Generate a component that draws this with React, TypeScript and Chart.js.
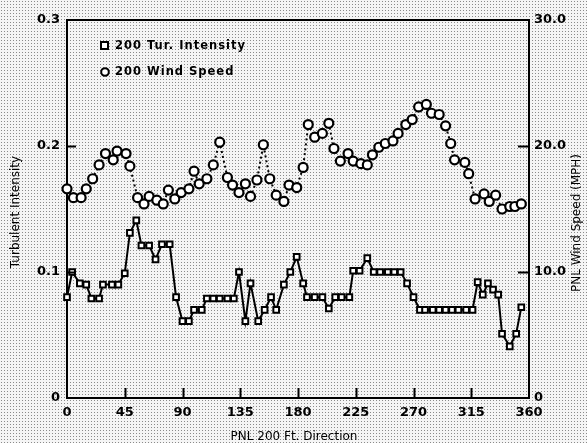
import React, { useEffect, useRef } from "react";
import { Chart, registerables } from "chart.js";

Chart.register(...registerables);

const xTicks = [0, 45, 90, 135, 180, 225, 270, 315, 360];

const turbDeg = [0, 4, 10, 15, 19, 25, 28, 35, 40, 45, 49, 54, 58, 64, 69, 74, 80, 85, 90, 95, 99, 105, 109, 114, 119, 125, 130, 134, 139, 143, 149, 154, 159, 163, 169, 174, 179, 184, 187, 193, 199, 204, 209, 214, 220, 223, 228, 234, 239, 244, 250, 255, 260, 265, 270, 275, 279, 285, 290, 295, 300, 305, 311, 316, 320, 324, 328, 332, 336, 339, 345, 350, 354];
const turbVals = [0.08, 0.1, 0.091, 0.09, 0.079, 0.079, 0.09, 0.09, 0.09, 0.099, 0.131, 0.141, 0.121, 0.121, 0.11, 0.122, 0.122, 0.08, 0.061, 0.061, 0.07, 0.07, 0.079, 0.079, 0.079, 0.079, 0.079, 0.1, 0.061, 0.091, 0.061, 0.07, 0.08, 0.07, 0.09, 0.1, 0.112, 0.091, 0.08, 0.08, 0.08, 0.071, 0.08, 0.08, 0.08, 0.101, 0.101, 0.111, 0.1, 0.1, 0.1, 0.1, 0.1, 0.091, 0.08, 0.07, 0.07, 0.07, 0.07, 0.07, 0.07, 0.07, 0.07, 0.07, 0.092, 0.082, 0.091, 0.086, 0.082, 0.051, 0.041, 0.051, 0.072];

const windDeg = [0, 5, 11, 15, 20, 25, 30, 36, 39, 46, 49, 55, 60, 64, 70, 75, 79, 84, 89, 95, 99, 103, 109, 114, 119, 125, 129, 134, 139, 143, 148, 153, 158, 163, 169, 173, 179, 184, 188, 193, 199, 204, 208, 213, 219, 223, 229, 234, 238, 243, 248, 254, 258, 264, 269, 274, 280, 284, 290, 295, 299, 302, 310, 313, 318, 325, 329, 334, 339, 345, 349, 354];
const windVals = [16.6, 15.9, 15.9, 16.6, 17.4, 18.5, 19.4, 18.9, 19.6, 19.4, 18.4, 15.9, 15.4, 16.0, 15.7, 15.4, 16.5, 15.8, 16.3, 16.6, 18.0, 17.0, 17.4, 18.5, 20.3, 17.5, 16.9, 16.3, 17.0, 16.0, 17.3, 20.1, 17.4, 16.1, 15.6, 16.9, 16.7, 18.3, 21.7, 20.7, 21.0, 21.8, 19.8, 18.8, 19.4, 18.8, 18.6, 18.5, 19.3, 19.9, 20.2, 20.4, 21.0, 21.7, 22.1, 23.1, 23.3, 22.6, 22.5, 21.6, 20.2, 18.9, 18.7, 17.8, 15.8, 16.2, 15.6, 16.1, 15.0, 15.2, 15.2, 15.4];

const seriesLabels = ["200 Tur. Intensity", "200 Wind Speed"];
const axisTitles = { x: "PNL 200 Ft. Direction", left: "Turbulent Intensity", right: "PNL Wind Speed (MPH)" };

const FONT = "'DejaVu Sans', Verdana, sans-serif";

const decorPlugin = {
  id: "decor",
  beforeDraw(chart: any) {
    const ctx = chart.ctx;
    const tile = document.createElement("canvas");
    tile.width = 3;
    tile.height = 3;
    const t = tile.getContext("2d")!;
    t.fillStyle = "#f5f5f5";
    t.fillRect(0, 0, 3, 3);
    t.fillStyle = "#8a8a8a";
    t.fillRect(1, 1, 1, 1);
    const pat = ctx.createPattern(tile, "repeat");
    ctx.save();
    ctx.fillStyle = pat;
    ctx.fillRect(0, 0, chart.width, chart.height);
    ctx.restore();
  },
  afterDraw(chart: any) {
    const ctx = chart.ctx;
    const a = chart.chartArea;
    const xs = chart.scales.x;
    const yl = chart.scales.y;
    const yr = chart.scales.y1;
    ctx.save();
    ctx.strokeStyle = "#000";
    ctx.lineWidth = 2;
    // top border
    ctx.beginPath();
    ctx.moveTo(a.left - 1, a.top);
    ctx.lineTo(a.right + 1, a.top);
    ctx.stroke();
    // inward ticks
    ctx.beginPath();
    xTicks.forEach((v) => {
      if (v === 0 || v === 360) return;
      const px = Math.round(xs.getPixelForValue(v)) + 0.5;
      ctx.moveTo(px, a.bottom);
      ctx.lineTo(px, a.bottom - 10);
    });
    [0.1, 0.2].forEach((v) => {
      const py = Math.round(yl.getPixelForValue(v)) + 0.5;
      ctx.moveTo(a.left, py);
      ctx.lineTo(a.left + 9, py);
    });
    [10, 20].forEach((v) => {
      const py = Math.round(yr.getPixelForValue(v)) + 0.5;
      ctx.moveTo(a.right, py);
      ctx.lineTo(a.right - 11, py);
    });
    ctx.stroke();

    // axis titles
    ctx.fillStyle = "#000";
    ctx.font = `12px ${FONT}`;
    ctx.textAlign = "center";
    ctx.textBaseline = "middle";
    ctx.fillText(axisTitles.x, 294, 437);
    ctx.save();
    ctx.translate(16, 212);
    ctx.rotate(-Math.PI / 2);
    ctx.fillText(axisTitles.left, 0, 0);
    ctx.restore();
    ctx.save();
    ctx.translate(577, 223);
    ctx.rotate(-Math.PI / 2);
    ctx.fillText(axisTitles.right, 0, 0);
    ctx.restore();

    // legend
    ctx.font = `bold 11.5px ${FONT}`;
    try {
      (ctx as any).letterSpacing = "1px";
    } catch (e) {}
    ctx.textAlign = "left";
    ctx.lineWidth = 2;
    ctx.fillStyle = "#fff";
    ctx.fillRect(101, 42, 7, 7);
    ctx.strokeRect(101, 42, 7, 7);
    ctx.beginPath();
    ctx.arc(105, 72, 3.8, 0, Math.PI * 2);
    ctx.fill();
    ctx.stroke();
    ctx.fillStyle = "#000";
    ctx.fillText(seriesLabels[0], 115, 46);
    ctx.fillText(seriesLabels[1], 115, 72);
    try {
      (ctx as any).letterSpacing = "0px";
    } catch (e) {}
    ctx.restore();
  },
};

export default function App() {
  const ref = useRef<HTMLCanvasElement | null>(null);
  useEffect(() => {
    if (!ref.current) return;
    const tickFont = { family: FONT, size: 13, weight: "bold" as const };
    const chart = new Chart(ref.current, {
      type: "line",
      data: {
        datasets: [
          {
            label: seriesLabels[0],
            data: turbDeg.map((d, i) => ({ x: d, y: turbVals[i] })),
            yAxisID: "y",
            borderColor: "#000",
            borderWidth: 2,
            pointStyle: "rect",
            pointRadius: 4,
            pointBorderWidth: 2,
            pointBackgroundColor: "#fff",
            pointBorderColor: "#000",
            tension: 0,
            clip: false,
          },
          {
            label: seriesLabels[1],
            data: windDeg.map((d, i) => ({ x: d, y: windVals[i] })),
            yAxisID: "y1",
            borderColor: "#000",
            borderWidth: 2,
            borderDash: [2, 3],
            pointStyle: "circle",
            pointRadius: 4.5,
            pointBorderWidth: 2.2,
            pointBackgroundColor: "#fff",
            pointBorderColor: "#000",
            tension: 0,
            clip: false,
          },
        ],
      },
      options: {
        responsive: false,
        animation: false,
        layout: { padding: { top: 20, left: 0, right: 0, bottom: 0 } },
        plugins: { legend: { display: false }, tooltip: { enabled: false } },
        scales: {
          x: {
            type: "linear",
            min: 0,
            max: 360,
            afterBuildTicks: (s: any) => {
              s.ticks = xTicks.map((v) => ({ value: v }));
            },
            afterFit: (s: any) => {
              s.height = 45;
            },
            grid: { display: true, drawOnChartArea: false, drawTicks: false },
            border: { display: true, color: "#000", width: 2 },
            ticks: { font: tickFont, color: "#000", padding: 7, maxRotation: 0, autoSkip: false },
          },
          y: {
            position: "left",
            min: 0,
            max: 0.3,
            ticks: {
              stepSize: 0.1,
              font: tickFont,
              color: "#000",
              padding: 7,
              callback: (v: any) => (Number(v) === 0 ? "0" : Number(v).toFixed(1)),
            },
            afterFit: (s: any) => {
              s.width = 67;
            },
            grid: { display: true, drawOnChartArea: false, drawTicks: false },
            border: { display: true, color: "#000", width: 2 },
          },
          y1: {
            position: "right",
            min: 0,
            max: 30,
            ticks: {
              stepSize: 10,
              font: tickFont,
              color: "#000",
              padding: 5,
              callback: (v: any) => (Number(v) === 0 ? "0" : Number(v).toFixed(1)),
            },
            afterFit: (s: any) => {
              s.width = 58;
            },
            grid: { display: true, drawOnChartArea: false, drawTicks: false },
            border: { display: true, color: "#000", width: 2 },
          },
        },
      },
      plugins: [decorPlugin],
    });
    return () => chart.destroy();
  }, []);
  return (
    <div style={{ position: "fixed", left: 0, top: 0, width: 587, height: 443 }}>
      <canvas ref={ref} width={587} height={443} style={{ display: "block" }} />
    </div>
  );
}
